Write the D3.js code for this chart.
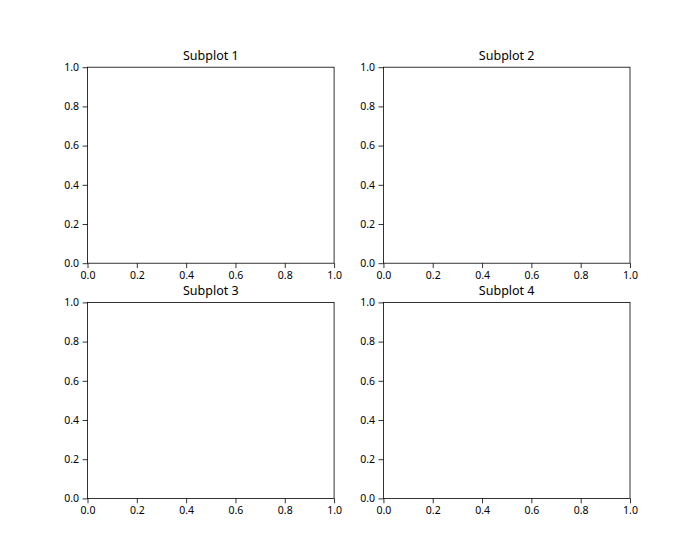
<!DOCTYPE html>
<html><head><meta charset="utf-8">
<script src="https://cdn.jsdelivr.net/npm/d3@7"></script>
<style>body{margin:0;background:#fff}svg{display:block}text{font-family:"Noto Sans","Open Sans",sans-serif;fill:#000}</style>
</head><body>
<svg id="c" width="700" height="560"></svg>
<script>
const titles = ["Subplot 1", "Subplot 2", "Subplot 3", "Subplot 4"];
const xDomain = [0, 1];
const yDomain = [0, 1];
const xTicks = [0, 0.2, 0.4, 0.6, 0.8, 1.0];
const yTicks = [0, 0.2, 0.4, 0.6, 0.8, 1.0];

(function(){
const W = 700, H = 560;
const mLeft = 0.125*W, mRight = 0.9*W, mTop = (1-0.88)*H, mBottom = (1-0.11)*H;
const ws = 0.2, hs = 0.2;
const aw = (mRight-mLeft)/(2+ws), ah = (mBottom-mTop)/(2+hs);
const svg = d3.select("#c");
svg.append("rect").attr("width",W).attr("height",H).attr("fill","#fff");

titles.forEach((t,i)=>{
  const r = Math.floor(i/2), c = i%2;
  const x0 = mLeft + c*aw*(1+ws), y0 = mTop + r*ah*(1+hs);
  const x = d3.scaleLinear().domain(xDomain).range([0, aw]);
  const y = d3.scaleLinear().domain(yDomain).range([ah, 0]);
  const g = svg.append("g").attr("transform",`translate(${x0},${y0})`);
  const ax = g.append("g").attr("transform",`translate(0,${ah})`)
    .call(d3.axisBottom(x).tickValues(xTicks).tickFormat(d3.format(".1f")).tickSize(4.9).tickPadding(3.5).tickSizeOuter(0));
  const ay = g.append("g")
    .call(d3.axisLeft(y).tickValues(yTicks).tickFormat(d3.format(".1f")).tickSize(4.9).tickPadding(3.5).tickSizeOuter(0));
  [ax, ay].forEach(a=>{
    a.select(".domain").remove();
    a.selectAll("line").attr("stroke","#000").attr("stroke-width",0.8);
    a.selectAll("text").attr("font-size","10.5px").attr("font-family",'"Noto Sans","Open Sans",sans-serif');
  });
  g.append("rect").attr("x",0).attr("y",0).attr("width",aw).attr("height",ah)
    .attr("fill","none").attr("stroke","#000").attr("stroke-width",0.8);
  g.append("text").attr("x",aw/2).attr("y",-7).attr("text-anchor","middle")
    .attr("font-size","12.5px").text(t);
});
})();
</script>
</body></html>
